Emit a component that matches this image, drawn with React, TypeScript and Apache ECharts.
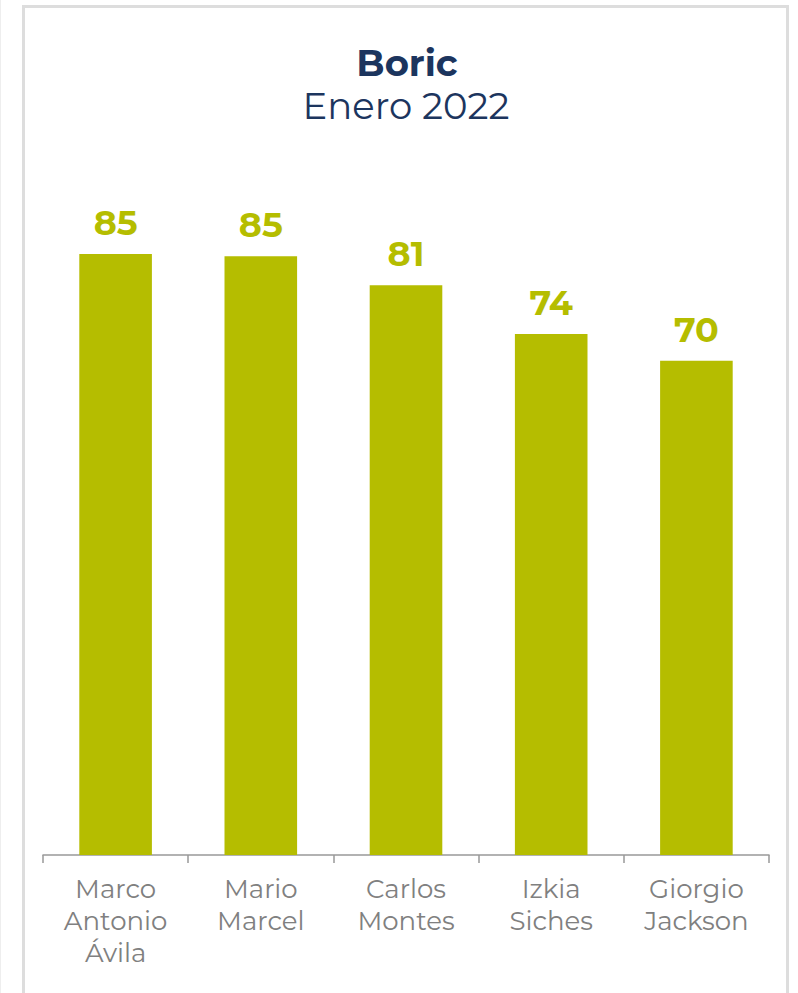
import React, { useEffect, useRef } from "react";
import * as echarts from "echarts";

const categories = ["Marco\nAntonio\nÁvila", "Mario\nMarcel", "Carlos\nMontes", "Izkia\nSiches", "Giorgio\nJackson"];
const values = [85.0, 84.7, 80.6, 73.7, 69.9];
const titleText = "Boric";
const subtitleText = "Enero 2022";

export default function App() {
  const ref = useRef<HTMLDivElement>(null);
  useEffect(() => {
    const chart = echarts.init(ref.current!, null, { renderer: "svg" });
    const font = "Montserrat, 'Open Sans', 'Noto Sans', sans-serif";
    chart.setOption({
      animation: false,
      backgroundColor: "#ffffff",
      graphic: [
        { type: "line", shape: { x1: 0.5, y1: 0, x2: 0.5, y2: 993 }, style: { stroke: "#eeeeee", lineWidth: 1 } },
        { type: "rect", shape: { x: 23.5, y: 6.5, width: 764, height: 1000 }, style: { fill: "none", stroke: "#dddddd", lineWidth: 3 } },
        { type: "text", x: 407, y: 62, style: { text: titleText, textAlign: "center", textVerticalAlign: "middle", fontFamily: font, fontWeight: "bold", fontSize: 37, fill: "#1c355e" } },
        { type: "text", x: 406, y: 105, style: { text: subtitleText, textAlign: "center", textVerticalAlign: "middle", fontFamily: font, fontWeight: "normal", fontSize: 37, fill: "#1c355e" } },
      ],
      grid: { left: 43, right: 29, top: 148, bottom: 138, containLabel: false },
      xAxis: {
        type: "category",
        data: categories,
        axisLine: { show: true, lineStyle: { color: "#999999", width: 1.5 } },
        axisTick: { show: true, length: 8, lineStyle: { color: "#999999", width: 1.5 } },
        axisLabel: { color: "#808080", fontSize: 26, lineHeight: 32, fontFamily: font, margin: 18, interval: 0 },
      },
      yAxis: { type: "value", min: 0, max: 100, show: false, splitLine: { show: false } },
      series: [
        {
          type: "bar",
          data: values,
          barWidth: "50%",
          itemStyle: { color: "#b5bd00" },
          label: {
            show: true,
            position: "top",
            distance: 14,
            formatter: (p: any) => String(Math.round(p.value)),
            color: "#b5bd00",
            fontSize: 35,
            fontWeight: "bold",
            fontFamily: font,
          },
        },
      ],
    });
    return () => chart.dispose();
  }, []);
  return <div ref={ref} style={{ position: "absolute", left: 0, top: 0, width: 798, height: 993 }} />;
}
